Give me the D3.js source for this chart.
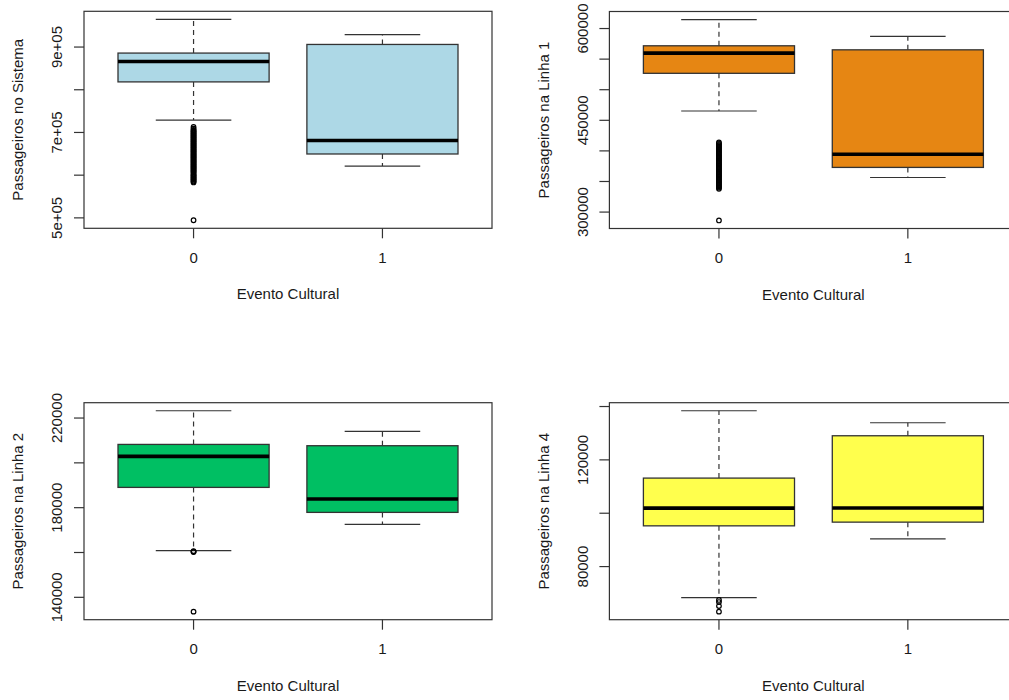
<!DOCTYPE html>
<html>
<head>
<meta charset="utf-8">
<script src="https://cdn.jsdelivr.net/npm/d3@7"></script>
<style>
  html, body { margin: 0; padding: 0; background: #fff; }
  svg { display: block; }
  text { font-family: "Liberation Sans", Arial, sans-serif; fill: #1a1a1a; }
</style>
</head>
<body>
<svg id="chart" width="1009" height="700"></svg>
<script>
// ---------- DATA ----------
const categories = ["0", "1"];
const xTitle = "Evento Cultural";

// [lower whisker, Q1, median, Q3, upper whisker] per category
const sistemaBox = [[728900, 818400, 866100, 885900, 964900], [621400, 649600, 681200, 906100, 929000]];
const sistemaOutliers = [713000, 709000, 706000, 704000, 702000, 700000, 698000, 696000, 694000, 692000, 690000, 688000, 686000, 684000, 682000, 680000, 678000, 676000, 674000, 672000, 670000, 668000, 666000, 664000, 662000, 660000, 658000, 656000, 654000, 652000, 650000, 648000, 646000, 644000, 642000, 640000, 638000, 636000, 634000, 632000, 630000, 628000, 626000, 624000, 622000, 620000, 618000, 616000, 614000, 612000, 610000, 608000, 606000, 603000, 601000, 599000, 597000, 595000, 593000, 591000, 589000, 587000, 585000, 583000, 494400];
const sistemaTicks = [500000, 600000, 700000, 800000, 900000];
const sistemaLabels = ["5e+05", "", "7e+05", "", "9e+05"];

const linha1Box = [[465200, 526800, 559800, 571800, 614700], [356500, 373000, 394400, 565200, 587100]];
const linha1Outliers = [414000, 412000, 410000, 408000, 406000, 404000, 402000, 400000, 398000, 396000, 394000, 392000, 390000, 388000, 386000, 384000, 382000, 380000, 378000, 376000, 374000, 372000, 370000, 368000, 366000, 364000, 362000, 360000, 358000, 356000, 354000, 352000, 350000, 348000, 346000, 344000, 342000, 340000, 338000, 286300];
const linha1Ticks = [300000, 350000, 400000, 450000, 500000, 550000, 600000];
const linha1Labels = ["300000", "", "", "450000", "", "", "600000"];

const linha2Box = [[160830, 189050, 202880, 208230, 223260], [172550, 177900, 183880, 207650, 214030]];
const linha2Outliers = [160600, 160400, 160200, 133600];
const linha2Ticks = [140000, 160000, 180000, 200000, 220000];
const linha2Labels = ["140000", "", "180000", "", "220000"];

const linha4Box = [[68370, 95270, 101910, 113170, 138420], [90390, 96660, 101980, 129040, 133920]];
const linha4Outliers = [67500, 66700, 65200, 63100];
const linha4Ticks = [80000, 100000, 120000, 140000];
const linha4Labels = ["80000", "", "120000", ""];

const panelTitles = ["Passageiros no Sistema", "Passageiros na Linha 1", "Passageiros na Linha 2", "Passageiros na Linha 4"];
const panelColors = ["#ADD8E6", "#E68613", "#00BF63", "#FFFF4D"];

// ---------- LAYOUT ----------
const svg = d3.select("#chart");
svg.append("rect").attr("width", 1009).attr("height", 700).attr("fill", "#fff");

const plotW = 408, plotH = 217;
const panels = [
  { left: 84,    top: 11.3,  box: sistemaBox, out: sistemaOutliers, ticks: sistemaTicks, labels: sistemaLabels },
  { left: 609.4, top: 11.5,  box: linha1Box,  out: linha1Outliers,  ticks: linha1Ticks,  labels: linha1Labels },
  { left: 84,    top: 402.7, box: linha2Box,  out: linha2Outliers,  ticks: linha2Ticks,  labels: linha2Labels },
  { left: 609.4, top: 402.7, box: linha4Box,  out: linha4Outliers,  ticks: linha4Ticks,  labels: linha4Labels }
];

const lineCol = "#333";

panels.forEach((p, i) => {
  const g = svg.append("g").attr("transform", `translate(${p.left},${p.top})`);
  const allVals = p.box.flat().concat(p.out);
  const mn = d3.min(allVals), mx = d3.max(allVals);
  const pad = (mx - mn) * 0.04;
  const y = d3.scaleLinear().domain([mn - pad, mx + pad]).range([plotH, 0]);
  const x = d3.scaleLinear().domain([0.42, 2.58]).range([0, plotW]);
  const bw = 0.4;

  categories.forEach((c, k) => {
    const s = p.box[k];
    const cx = x(k + 1);
    const x0 = x(k + 1 - bw), x1 = x(k + 1 + bw);
    const cx0 = x(k + 1 - bw / 2), cx1 = x(k + 1 + bw / 2);
    g.append("line").attr("x1", cx).attr("x2", cx).attr("y1", y(s[3])).attr("y2", y(s[4]))
      .attr("stroke", lineCol).attr("stroke-width", 1.2).attr("stroke-dasharray", "5,4");
    g.append("line").attr("x1", cx).attr("x2", cx).attr("y1", y(s[1])).attr("y2", y(s[0]))
      .attr("stroke", lineCol).attr("stroke-width", 1.2).attr("stroke-dasharray", "5,4");
    [s[0], s[4]].forEach(v => {
      g.append("line").attr("x1", cx0).attr("x2", cx1).attr("y1", y(v)).attr("y2", y(v))
        .attr("stroke", lineCol).attr("stroke-width", 1.2);
    });
    g.append("rect").attr("x", x0).attr("y", y(s[3])).attr("width", x1 - x0).attr("height", y(s[1]) - y(s[3]))
      .attr("fill", panelColors[i]).attr("stroke", lineCol).attr("stroke-width", 1.3);
    g.append("line").attr("x1", x0).attr("x2", x1).attr("y1", y(s[2])).attr("y2", y(s[2]))
      .attr("stroke", "#000").attr("stroke-width", 3.6);
  });

  g.selectAll("circle.out").data(p.out).enter().append("circle")
    .attr("cx", x(1)).attr("cy", d => y(d)).attr("r", 2.3)
    .attr("fill", "none").attr("stroke", "#000").attr("stroke-width", 1.2);

  g.append("rect").attr("x", 0).attr("y", 0).attr("width", plotW).attr("height", plotH)
    .attr("fill", "none").attr("stroke", lineCol).attr("stroke-width", 1.2);

  p.ticks.forEach((t, j) => {
    g.append("line").attr("x1", -10).attr("x2", 0).attr("y1", y(t)).attr("y2", y(t))
      .attr("stroke", lineCol).attr("stroke-width", 1.2);
    if (p.labels[j]) {
      g.append("text").attr("transform", `translate(${-27},${y(t)}) rotate(-90)`)
        .attr("text-anchor", "middle").attr("dy", "0.36em").attr("font-size", 15).text(p.labels[j]);
    }
  });

  categories.forEach((c, k) => {
    g.append("line").attr("x1", x(k + 1)).attr("x2", x(k + 1)).attr("y1", plotH).attr("y2", plotH + 10)
      .attr("stroke", lineCol).attr("stroke-width", 1.2);
    g.append("text").attr("x", x(k + 1)).attr("y", plotH + 34.5).attr("text-anchor", "middle")
      .attr("font-size", 15).text(c);
  });

  g.append("text").attr("x", plotW / 2).attr("y", plotH + 71).attr("text-anchor", "middle")
    .attr("font-size", 15).text(xTitle);
  g.append("text").attr("transform", `translate(${-66},${plotH / 2}) rotate(-90)`)
    .attr("text-anchor", "middle").attr("dy", "0.36em").attr("font-size", 15).text(panelTitles[i]);
});
</script>
</body>
</html>
